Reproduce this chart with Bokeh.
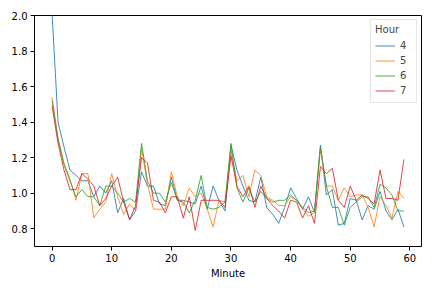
from bokeh.plotting import figure
from bokeh.models import Range1d, FixedTicker, PrintfTickFormatter, Legend
from bokeh.embed import file_html
from bokeh.resources import INLINE

minutes = list(range(60))
hours = ["4", "5", "6", "7"]
colors = ["#1f77b4", "#ff7f0e", "#2ca02c", "#d62728"]

hour4 = [2.01, 1.40, 1.26, 1.13, 1.10, 1.07, 1.07, 0.98, 1.04, 1.00,
         1.07, 0.89, 0.97, 0.85, 0.90, 1.12, 1.04, 1.04, 0.94, 0.93,
         1.09, 0.96, 0.96, 0.95, 0.94, 1.04, 0.91, 1.04, 0.96, 0.90,
         1.27, 1.13, 1.04, 0.96, 0.95, 1.09, 0.92, 0.88, 0.83, 0.92,
         1.03, 0.97, 0.91, 0.98, 0.89, 1.27, 0.99, 1.02, 0.82, 0.83,
         0.97, 0.96, 0.85, 0.93, 0.91, 1.01, 0.90, 0.85, 0.91, 0.81]
hour5 = [1.54, 1.31, 1.17, 1.08, 0.96, 1.11, 1.11, 0.86, 0.91, 0.95,
         1.11, 0.98, 0.88, 0.94, 0.90, 1.25, 1.05, 0.91, 0.91, 0.91,
         1.12, 0.98, 0.93, 1.03, 0.98, 1.00, 0.91, 0.81, 0.96, 0.95,
         1.24, 1.07, 1.10, 0.98, 1.13, 1.10, 0.98, 0.96, 0.93, 0.93,
         0.98, 0.96, 0.91, 0.87, 0.89, 1.25, 1.04, 1.04, 0.96, 1.03,
         0.98, 0.99, 0.99, 0.92, 0.81, 0.98, 0.93, 0.86, 1.01, 0.97]
hour6 = [1.52, 1.30, 1.16, 1.07, 0.98, 1.02, 0.98, 0.98, 0.93, 1.04,
         1.04, 1.00, 0.95, 0.97, 0.95, 1.28, 1.07, 1.00, 1.00, 0.95,
         1.06, 0.96, 0.95, 0.89, 0.96, 1.10, 0.92, 0.91, 0.92, 0.95,
         1.28, 1.03, 0.95, 1.03, 0.95, 1.01, 0.97, 0.95, 0.96, 0.96,
         0.99, 0.96, 0.92, 0.89, 0.90, 1.26, 1.04, 0.92, 0.92, 0.82,
         0.92, 0.95, 0.98, 0.98, 0.92, 1.05, 1.03, 0.99, 0.90, 0.90]
hour7 = [1.49, 1.28, 1.13, 1.02, 1.02, 1.11, 1.08, 1.04, 0.93, 0.97,
         1.04, 1.09, 0.95, 0.85, 0.93, 1.20, 1.17, 0.96, 0.95, 0.89,
         0.98, 0.98, 0.86, 0.98, 0.79, 0.96, 0.96, 0.96, 0.96, 0.92,
         1.21, 1.04, 0.98, 1.04, 0.92, 1.04, 0.97, 0.93, 0.90, 0.86,
         0.96, 0.95, 0.86, 0.93, 0.83, 1.15, 1.11, 1.14, 0.96, 0.92,
         1.04, 0.96, 0.99, 0.97, 0.94, 1.13, 0.97, 0.97, 0.96, 1.19]
series = [hour4, hour5, hour6, hour7]

x_ticks = [0, 10, 20, 30, 40, 50, 60]
y_ticks = [0.8, 1.0, 1.2, 1.4, 1.6, 1.8, 2.0]

p = figure(width=432, height=288, output_backend="svg", toolbar_location=None,
           x_range=Range1d(-2.95, 61.95), y_range=Range1d(0.7, 2.0),
           min_border_left=34, min_border_right=11, min_border_top=15, min_border_bottom=42)

p.background_fill_color = "white"
p.border_fill_color = "white"
p.outline_line_color = "black"
p.outline_line_width = 1
p.outline_line_alpha = 1
p.xgrid.visible = False
p.ygrid.visible = False

renderers = []
for h, vals, c in zip(hours, series, colors):
    r = p.line(minutes, vals, line_color=c, line_width=0.85)
    renderers.append((h, [r]))

for ax in (p.xaxis[0], p.yaxis[0]):
    ax.axis_line_color = None
    ax.major_tick_line_color = "black"
    ax.major_tick_out = 4
    ax.major_tick_in = 0
    ax.minor_tick_line_color = None
    ax.major_label_text_font = "DejaVu Sans"
    ax.major_label_text_font_size = "10px"
    ax.major_label_text_color = "black"
    ax.major_label_standoff = 3
    ax.axis_label_text_font = "DejaVu Sans"
    ax.axis_label_text_font_size = "10px"
    ax.axis_label_text_font_style = "normal"
    ax.axis_label_text_color = "black"

p.xaxis.ticker = FixedTicker(ticks=x_ticks)
p.yaxis.ticker = FixedTicker(ticks=y_ticks)
p.yaxis.formatter = PrintfTickFormatter(format="%.1f")
p.xaxis.axis_label = "Minute"
p.xaxis.axis_label_standoff = 3

legend = Legend(items=renderers, location="top_right", title="Hour")
legend.title_text_font = "DejaVu Sans"
legend.title_text_font_size = "10px"
legend.title_text_font_style = "normal"
legend.label_text_font = "DejaVu Sans"
legend.label_text_font_size = "10px"
legend.label_text_align = "right"
legend.label_width = 12
legend.glyph_width = 20
legend.glyph_height = 15
legend.spacing = 0
legend.padding = 4
legend.margin = 4
legend.border_line_color = "#cccccc"
legend.border_line_width = 1
legend.background_fill_alpha = 0.8
legend.title_standoff = 3
p.add_layout(legend)

open("out.html", "w").write(file_html(p, INLINE))
